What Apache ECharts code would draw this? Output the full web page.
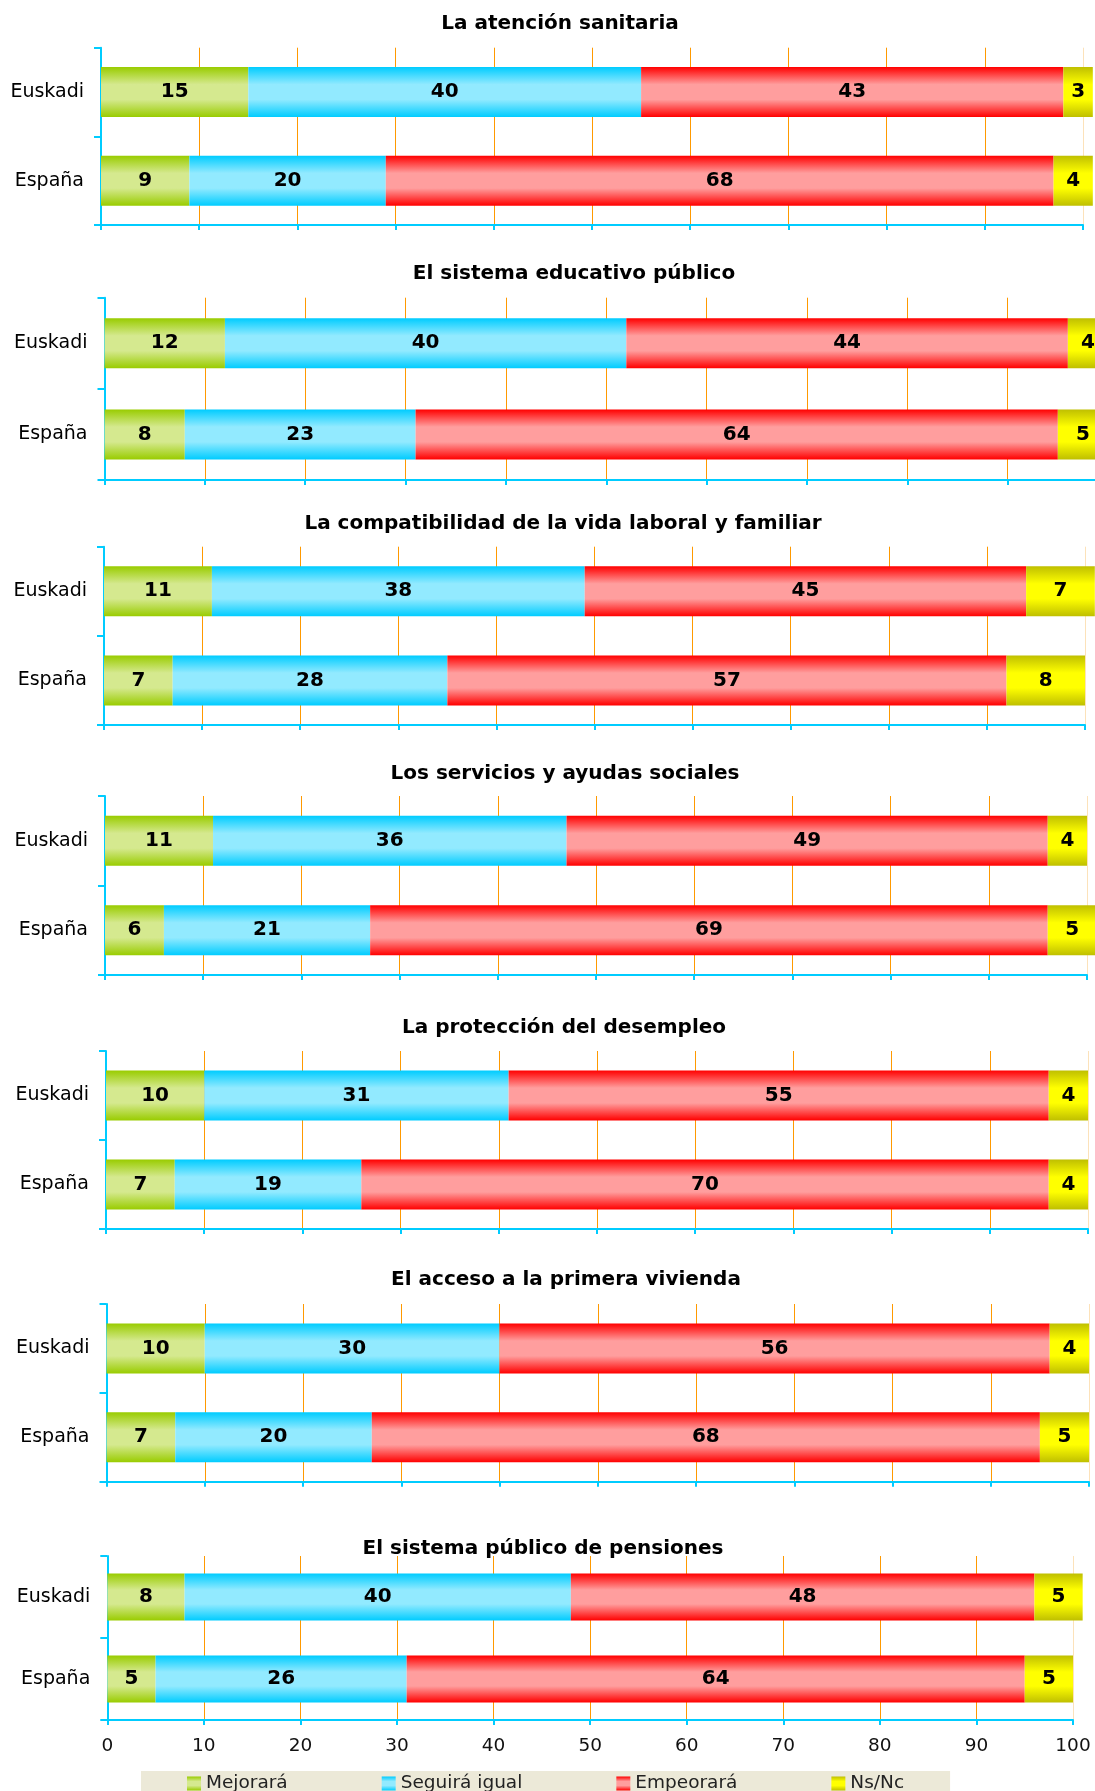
<!DOCTYPE html>
<html>
<head>
<meta charset="utf-8">
<style>
  html, body { margin: 0; padding: 0; background: #ffffff; }
  #chart { width: 1095px; height: 1791px; }
</style>
<script src="https://cdn.jsdelivr.net/npm/echarts@6/dist/echarts.min.js"></script>
</head>
<body>
<div id="chart"></div>
<script>
// ---------- data ----------
const categories = ['Euskadi', 'España'];
const seriesNames = ['Mejorará', 'Seguirá igual', 'Empeorará', 'Ns/Nc'];
const panelTitles = [
  'La atención sanitaria',
  'El sistema educativo público',
  'La compatibilidad de la vida laboral y familiar',
  'Los servicios y ayudas sociales',
  'La protección del desempleo',
  'El acceso a la primera vivienda',
  'El sistema público de pensiones'
];
// [Euskadi, España] per panel
const mejorara     = [[15, 9], [12, 8], [11, 7], [11, 6], [10, 7], [10, 7], [8, 5]];
const seguiraIgual = [[40, 20], [40, 23], [38, 28], [36, 21], [31, 19], [30, 20], [40, 26]];
const empeorara    = [[43, 68], [44, 64], [45, 57], [49, 69], [55, 70], [56, 68], [48, 64]];
const nsnc         = [[3, 4], [4, 5], [7, 8], [4, 5], [4, 4], [4, 5], [5, 5]];
const xMin = 0, xMax = 100, xStep = 10;

// ---------- layout (pixels) ----------
const layout = [
  { x0: 101,   x1: 1083, top: 47.7,  bottom: 225,    tx: 560, ty: 25,    bw: 50 },
  { x0: 104.5, x1: 1108, top: 297.7, bottom: 480,    tx: 574, ty: 274.5, bw: 50 },
  { x0: 104,   x1: 1085, top: 546.7, bottom: 725,    tx: 563, ty: 525,   bw: 50 },
  { x0: 105,   x1: 1087, top: 796,   bottom: 975,    tx: 565, ty: 775,   bw: 50 },
  { x0: 106,   x1: 1088, top: 1051,  bottom: 1229,   tx: 564, ty: 1028.5,bw: 50 },
  { x0: 106.5, x1: 1089, top: 1304,  bottom: 1481.7, tx: 566, ty: 1281,  bw: 50 },
  { x0: 107.3, x1: 1073, top: 1556,  bottom: 1720,   tx: 543, ty: 1549.5,bw: 47 }
];

const FONT = '"DejaVu Sans", "Liberation Sans", Arial, sans-serif';
const CYAN = '#00CCFF';
const ORANGE = '#FF9900';
const gridColors = [];
for (let v = xMin; v < xMax; v += xStep) gridColors.push(ORANGE);
gridColors.push('#FCE2BA');

function grad(edge, light) {
  return new echarts.graphic.LinearGradient(0, 0, 0, 1, [
    { offset: 0, color: edge },
    { offset: 0.35, color: light },
    { offset: 0.65, color: light },
    { offset: 1, color: edge }
  ]);
}
const fills = [
  grad('#99CC00', '#D5E98F'),
  grad('#00CCFF', '#92EAFF'),
  grad('#FF0000', '#FF9E9E'),
  grad('#BFBF00', '#FFFF00')
];
const valueSets = [mejorara, seguiraIgual, empeorara, nsnc];

const grids = [], xAxes = [], yAxes = [], titles = [], series = [];
layout.forEach((L, i) => {
  grids.push({
    left: L.x0, width: L.x1 - L.x0, top: L.top, height: L.bottom - L.top,
    containLabel: false, outerBoundsMode: 'none'
  });
  titles.push({
    text: panelTitles[i], left: L.tx, top: L.ty - 11, textAlign: 'center', padding: 0,
    textStyle: { fontFamily: FONT, fontSize: 20, fontWeight: 'bold', color: '#000' }
  });
  xAxes.push({
    type: 'value', gridIndex: i, min: xMin, max: xMax, interval: xStep,
    axisLine: { show: true, lineStyle: { color: CYAN, width: 2 } },
    axisTick: { show: true, length: 5, lineStyle: { color: CYAN, width: 2 } },
    axisLabel: { show: i === layout.length - 1, margin: 17, fontFamily: FONT, fontSize: 18.5, color: '#111' },
    splitLine: { show: true, lineStyle: { color: gridColors, width: 1 } }
  });
  yAxes.push({
    type: 'category', gridIndex: i, data: categories, inverse: true,
    axisLine: { show: true, lineStyle: { color: CYAN, width: 2 } },
    axisTick: { show: true, length: 7, lineStyle: { color: CYAN, width: 2 } },
    axisLabel: { margin: 17, fontFamily: FONT, fontSize: 19, color: '#000' },
    splitLine: { show: false }
  });
  seriesNames.forEach((name, s) => {
    series.push({
      name: name, type: 'bar', stack: 'p' + i, xAxisIndex: i, yAxisIndex: i,
      barWidth: L.bw, clip: false,
      data: valueSets[s][i],
      itemStyle: { color: fills[s] },
      label: {
        show: true, position: 'inside', color: '#000', fontFamily: FONT,
        fontSize: 20, fontWeight: 'bold', textBorderWidth: 0
      },
      emphasis: { disabled: true }
    });
  });
});

const chart = echarts.init(document.getElementById('chart'), null, { renderer: 'canvas' });
chart.setOption({
  animation: false,
  backgroundColor: '#ffffff',
  title: titles,
  grid: grids,
  xAxis: xAxes,
  yAxis: yAxes,
  legend: {
    data: seriesNames,
    left: 141, top: 1771,
    padding: [3, 46, 8, 46],
    itemGap: 94, itemWidth: 14, itemHeight: 14,
    icon: 'rect',
    backgroundColor: '#ECE9D8',
    textStyle: { fontFamily: FONT, fontSize: 18.5, color: '#222' },
    selectedMode: false
  },
  series: series
});
</script>
</body>
</html>
